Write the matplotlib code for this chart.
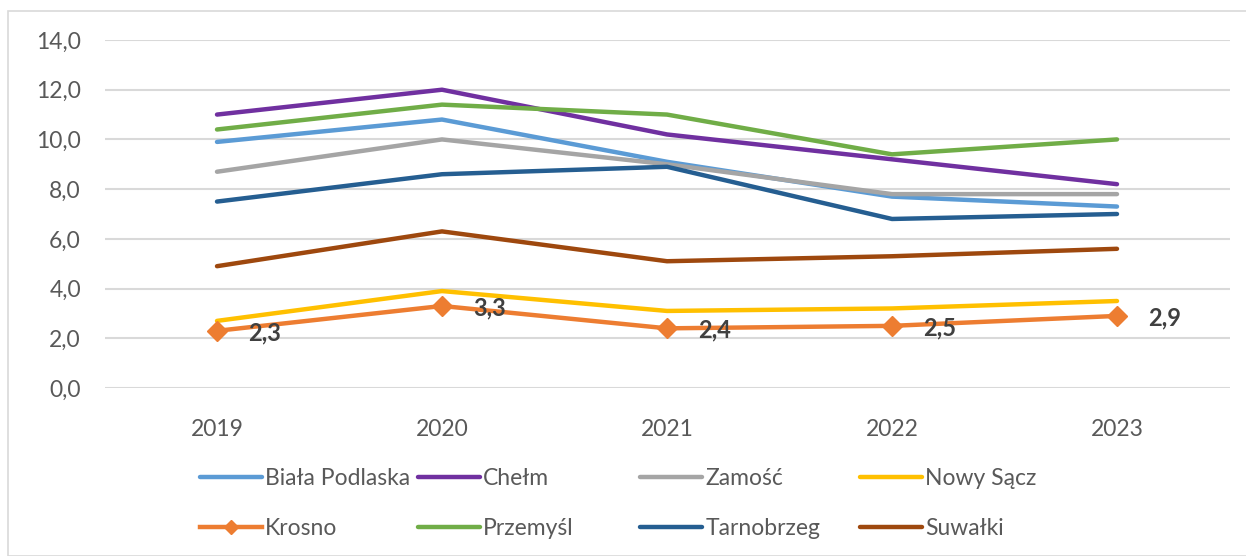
import matplotlib
matplotlib.use('Agg')
import matplotlib.pyplot as plt
from matplotlib.patches import Rectangle
from matplotlib.lines import Line2D

# ==========================================================
# Data
# ==========================================================
years = ['2019', '2020', '2021', '2022', '2023']

biala_podlaska = [9.9, 10.8, 9.1, 7.7, 7.3]
chelm = [11.0, 12.0, 10.2, 9.2, 8.2]
zamosc = [8.7, 10.0, 9.0, 7.8, 7.8]
nowy_sacz = [2.7, 3.9, 3.1, 3.2, 3.5]
krosno = [2.3, 3.3, 2.4, 2.5, 2.9]
przemysl = [10.4, 11.4, 11.0, 9.4, 10.0]
tarnobrzeg = [7.5, 8.6, 8.9, 6.8, 7.0]
suwalki = [4.9, 6.3, 5.1, 5.3, 5.6]

series = [
    ('Biała Podlaska', biala_podlaska, '#5B9BD5'),
    ('Chełm', chelm, '#7030A0'),
    ('Zamość', zamosc, '#A5A5A5'),
    ('Nowy Sącz', nowy_sacz, '#FFC000'),
    ('Krosno', krosno, '#ED7D31'),
    ('Przemyśl', przemysl, '#70AD47'),
    ('Tarnobrzeg', tarnobrzeg, '#255E91'),
    ('Suwałki', suwalki, '#9E480E'),
]

yticks = [0, 2, 4, 6, 8, 10, 12, 14]

plt.rcParams['font.family'] = ['Lato', 'DejaVu Sans']

W, H = 1246, 556
fig = plt.figure(figsize=(W / 100, H / 100), dpi=100)

# outer chart border
fig.add_artist(Rectangle((8 / W, 0), 1.2, 1 - 11 / H, transform=fig.transFigure,
                         fill=False, edgecolor='#D9D9D9', linewidth=1.2))

ax = fig.add_axes([104.5 / W, 1 - 388 / H, 1125 / W, 348 / H])

x = list(range(len(years)))
handles = {}
for name, vals, color in series:
    if name == 'Krosno':
        ax.plot(x, vals, color=color, linewidth=3.2, marker='D', markersize=10,
                solid_capstyle='round', zorder=3)
        for xi, v in zip(x, vals):
            ax.annotate(f'{v:.1f}'.replace('.', ','), (xi, v), xytext=(31, -2),
                        textcoords='offset pixels', ha='left', va='center',
                        fontsize=17, fontweight='bold', color='#404040', zorder=5)
        handles[name] = Line2D([], [], color=color, linewidth=3.2, marker='D',
                               markersize=7)
    else:
        ax.plot(x, vals, color=color, linewidth=3.2, solid_capstyle='round',
                solid_joinstyle='round', zorder=3)
        handles[name] = Line2D([], [], color=color, linewidth=3.2,
                               solid_capstyle='round')

ax.set_xlim(-0.5, len(years) - 0.5)
ax.set_ylim(0, 14)
ax.set_yticks(yticks)
ax.set_yticklabels([f'{v:.1f}'.replace('.', ',') for v in yticks])
ax.set_xticks(x)
ax.set_xticklabels(years)
ax.grid(axis='y', color='#D9D9D9', linewidth=1.5)
ax.set_axisbelow(True)
for s in ax.spines.values():
    s.set_visible(False)
ax.tick_params(length=0, labelsize=16.5, labelcolor='#595959')
ax.tick_params(axis='y', pad=17)
ax.tick_params(axis='x', pad=22)

# legend: four equal-width columns, two rows
columns = [('Biała Podlaska', 'Krosno'), ('Chełm', 'Przemyśl'),
           ('Zamość', 'Tarnobrzeg'), ('Nowy Sącz', 'Suwałki')]
col_x = [200, 418, 640, 860]
for names, cx in zip(columns, col_x):
    fig.legend([handles[n] for n in names], list(names), loc='upper left',
               bbox_to_anchor=(cx / W, 1 - 468 / H), frameon=False,
               borderpad=0, borderaxespad=0, handlelength=2.7,
               handletextpad=0.15, labelspacing=1.25, fontsize=16.5,
               labelcolor='#595959', numpoints=1)

fig.savefig('out.png', dpi=100)
